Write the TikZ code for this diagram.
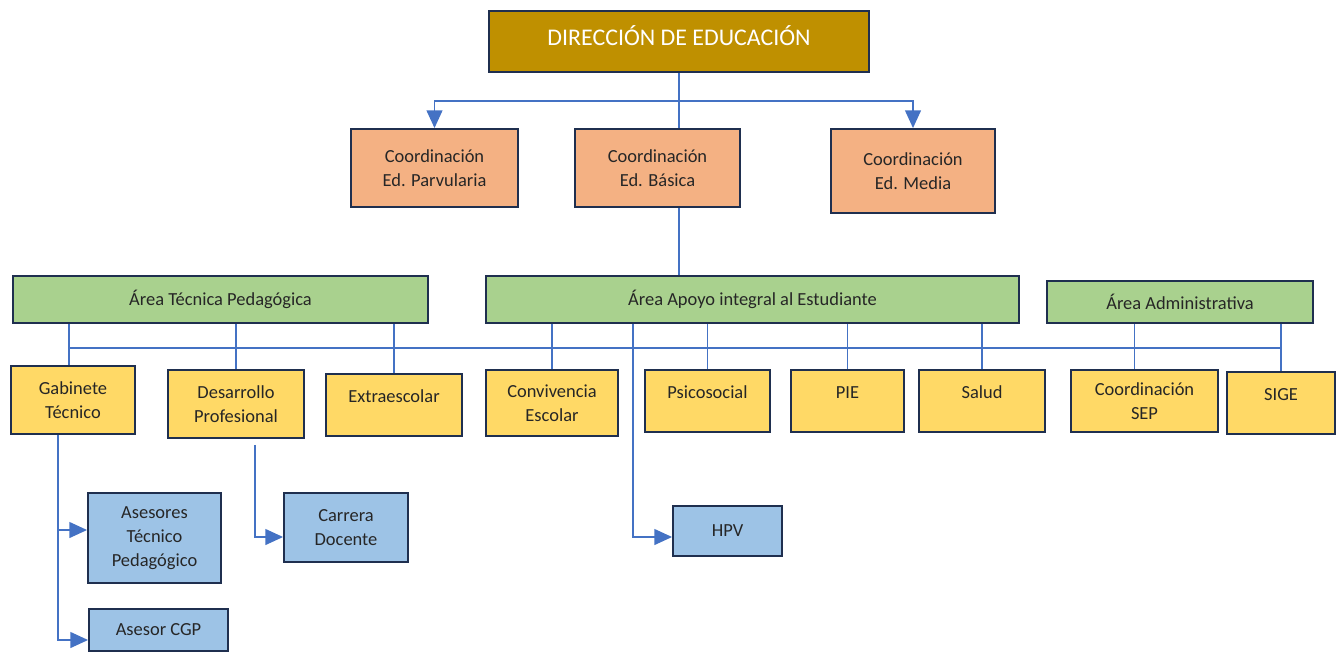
\documentclass[tikz,border=0pt]{standalone}
\usepackage{fontspec}
\setmainfont{Carlito}
\usetikzlibrary{arrows.meta}
\definecolor{dircol}{HTML}{BF9000}
\definecolor{coordcol}{HTML}{F4B183}
\definecolor{areacol}{HTML}{A9D18E}
\definecolor{unitcol}{HTML}{FFD966}
\definecolor{subcol}{HTML}{9DC3E6}
\definecolor{edgecol}{HTML}{1F2F4F}
\definecolor{linkcol}{HTML}{4472C4}
\begin{document}
\begin{tikzpicture}[x=0.02cm,y=-0.02cm,
    box/.style={draw=edgecol,line width=1.1pt,inner sep=0pt,align=center,
        font=\fontsize{10.5}{13.8}\selectfont,text=black!85},
    raised/.style={text depth=10pt},
    coordbox/.style={box,fill=coordcol},
    areabox/.style={box,fill=areacol},
    unitbox/.style={box,fill=unitcol},
    subbox/.style={box,fill=subcol},
    link/.style={draw=linkcol,line width=0.75pt},
    arr/.style={link,-{Triangle[length=10pt,width=9pt]}}]
    \useasboundingbox (0,0) rectangle (1344,652);
    % Direccion
    \node[box,fill=dircol,text=white,font=\fontsize{13.6}{16}\selectfont,text depth=7pt,
        minimum width=7.6cm,minimum height=1.22cm] (dir) at (679,41.5)
        {DIRECCIÓN DE EDUCACIÓN};
    % Coordinaciones
    \node[coordbox,minimum width=3.34cm,minimum height=1.56cm] (par) at (434.5,168)
        {Coordinación\\Ed. Parvularia};
    \node[coordbox,minimum width=3.3cm,minimum height=1.56cm] (bas) at (657.5,168)
        {Coordinación\\Ed. Básica};
    \node[coordbox,minimum width=3.28cm,minimum height=1.68cm] (med) at (913,171)
        {Coordinación\\Ed. Media};
    % Areas
    \node[areabox,minimum width=8.3cm,minimum height=0.94cm] (atp) at (220.5,299.5)
        {Área Técnica Pedagógica};
    \node[areabox,minimum width=10.66cm,minimum height=0.94cm] (aai) at (752.5,299.5)
        {Área Apoyo integral al Estudiante};
    \node[areabox,minimum width=5.32cm,minimum height=0.84cm] (adm) at (1180,302)
        {Área Administrativa};
    % Unidades
    \node[unitbox,minimum width=2.48cm,minimum height=1.36cm] (gab) at (73,400)
        {Gabinete\\Técnico};
    \node[unitbox,minimum width=2.72cm,minimum height=1.36cm] (des) at (236,404)
        {Desarrollo\\Profesional};
    \node[unitbox,raised,minimum width=2.72cm,minimum height=1.24cm] (ext) at (394,405)
        {Extraescolar};
    \node[unitbox,minimum width=2.64cm,minimum height=1.32cm] (con) at (552,403)
        {Convivencia\\Escolar};
    \node[unitbox,raised,minimum width=2.5cm,minimum height=1.24cm] (psi) at (707.5,401)
        {Psicosocial};
    \node[unitbox,raised,minimum width=2.26cm,minimum height=1.24cm] (pie) at (847.5,401)
        {PIE};
    \node[unitbox,raised,minimum width=2.52cm,minimum height=1.24cm] (sal) at (982,401)
        {Salud};
    \node[unitbox,minimum width=2.94cm,minimum height=1.24cm] (sep) at (1144.5,401)
        {Coordinación\\SEP};
    \node[unitbox,raised,minimum width=2.16cm,minimum height=1.24cm] (sige) at (1281,403)
        {SIGE};
    % Subunidades
    \node[subbox,minimum width=2.66cm,minimum height=1.8cm] (ate) at (154.5,538)
        {Asesores\\Técnico\\Pedagógico};
    \node[subbox,minimum width=2.78cm,minimum height=0.84cm] (cgp) at (158.5,630)
        {Asesor CGP};
    \node[subbox,minimum width=2.48cm,minimum height=1.38cm] (car) at (346,527.5)
        {Carrera\\Docente};
    \node[subbox,minimum width=2.18cm,minimum height=1.0cm] (hpv) at (727.5,531)
        {HPV};
    % Conectores superiores
    \coordinate (split) at (0,101);
    \draw[link] (dir.south) -- (dir.south |- bas.north);
    \draw[arr] (dir.south |- split) -| (par.north);
    \draw[arr] (dir.south |- split) -| (med.north);
    \draw[link] (dir.south |- bas.south) -- (dir.south |- aai.north);
    % Barra horizontal
    \coordinate (bus) at (0,348);
    \draw[link] ([xshift=-0.08cm]gab.north |- bus) -- (sige.north |- bus);
    \draw[link] ([xshift=-0.08cm]gab.north |- atp.south) -- ([xshift=-0.08cm]gab.north);
    \draw[link] (atp.south -| des.north) -- (des.north);
    \draw[link] (atp.south -| ext.north) -- (ext.north);
    \draw[link] (aai.south -| con.north) -- (con.north);
    \draw[link] (aai.south -| psi.north) -- (psi.north);
    \draw[link] (aai.south -| pie.north) -- (pie.north);
    \draw[link] (aai.south -| sal.north) -- (sal.north);
    \draw[link] ([xshift=-0.2cm]sep.north |- adm.south) -- ([xshift=-0.2cm]sep.north);
    \draw[link] (adm.south -| sige.north) -- (sige.north);
    % Subunidades
    \coordinate (gabline) at (58,0);
    \draw[arr] (gabline |- gab.south) |- ([yshift=0.16cm]ate.west);
    \draw[arr] (gabline |- gab.south) |- ([yshift=-0.2cm]cgp.west);
    \coordinate (desline) at (255,0);
    \draw[arr] ([yshift=-0.12cm]desline |- des.south) |- ([yshift=-0.19cm]car.west);
    \coordinate (hpvline) at (633,0);
    \draw[arr] (hpvline |- aai.south) |- ([yshift=-0.12cm]hpv.west);
\end{tikzpicture}
\end{document}
